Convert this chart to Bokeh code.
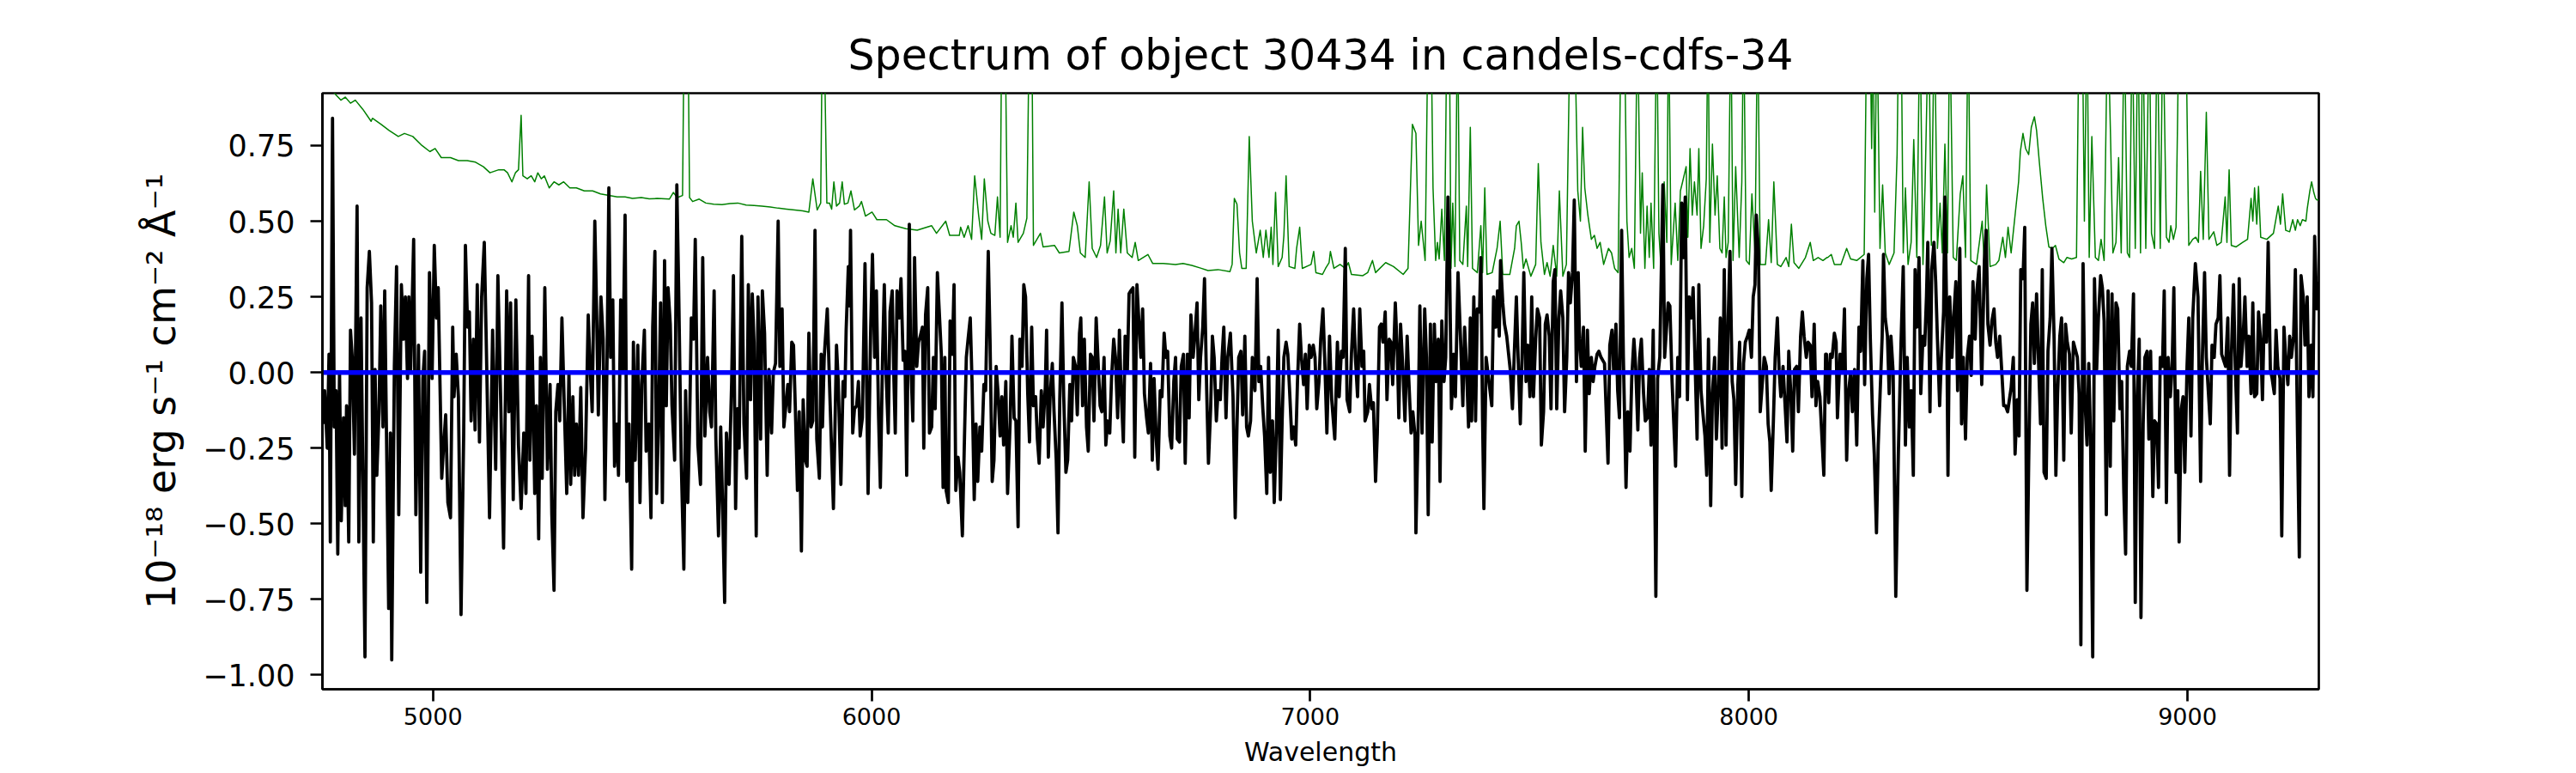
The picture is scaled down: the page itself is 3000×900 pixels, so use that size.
from bokeh.plotting import figure
from bokeh.models import Range1d, FixedTicker, Span
from bokeh.embed import file_html
from bokeh.resources import INLINE

title_text = "Spectrum of object 30434 in candels-cdfs-34"
x_label = "Wavelength"
y_label = "10\u207b\u00b9\u2078 erg s\u207b\u00b9 cm\u207b\u00b2 \u00c5\u207b\u00b9"

x_ticks = [5000, 6000, 7000, 8000, 9000]
x_tick_labels = ["5000", "6000", "7000", "8000", "9000"]
y_ticks = [-1.0, -0.75, -0.5, -0.25, 0.0, 0.25, 0.5, 0.75]
y_tick_labels = ["\u22121.00", "\u22120.75", "\u22120.50", "\u22120.25", "0.00", "0.25", "0.50", "0.75"]

# observed flux (black), piecewise by wavelength range
flux_4750_5890 = [
(4749,-0.17),(4753,-0.06),(4759,-0.25),(4763,0.06),(4766,-0.56),(4771,0.84),(4775,-0.18),(4779,-0.06),
(4783,-0.60),(4787,0.00),(4791,-0.49),(4796,-0.15),(4800,-0.44),(4803,-0.11),(4808,-0.56),(4812,0.14),
(4816,0.05),(4821,-0.27),(4827,0.55),(4831,-0.56),(4836,0.18),(4845,-0.94),(4850,0.28),(4855,0.40),
(4860,0.23),(4864,-0.56),(4868,0.01),(4872,-0.34),(4877,-0.13),(4881,0.22),(4886,-0.18),(4890,0.27),
(4894,-0.20),(4899,-0.78),(4903,-0.20),(4906,-0.95),(4912,0.02),(4917,0.35),(4922,-0.47),(4928,0.29),
(4933,0.11),(4937,0.25),(4942,-0.02),(4945,0.25),(4949,0.00),(4956,0.44),(4961,-0.47),(4967,0.09),
(4972,-0.66),(4977,-0.02),(4981,0.07),(4986,-0.76),(4992,0.33),(4998,-0.02),(5003,0.42),(5008,0.18),
(5012,0.28),(5020,-0.35),(5024,-0.25),(5029,-0.14),(5034,-0.43),(5040,-0.48),(5045,0.15),(5048,-0.08),
(5053,0.06),(5058,-0.08),(5064,-0.80),(5070,-0.21),(5074,0.42),(5079,0.15),(5083,0.20),(5087,-0.16),
(5092,0.11),(5096,-0.19),(5101,0.29),(5106,-0.23),(5111,0.25),(5117,0.43),(5121,0.14),(5129,-0.48),
(5136,0.14),(5143,-0.32),(5148,0.32),(5155,-0.13),(5161,-0.58),(5168,0.27),(5173,-0.13),(5177,0.23),
(5183,-0.42),(5189,0.24),(5195,-0.24),(5201,-0.45),(5207,-0.20),(5212,-0.40),(5218,0.32),(5221,-0.29),
(5226,0.12),(5232,-0.40),(5236,-0.11),(5241,-0.55),(5245,0.05),(5249,-0.35),(5255,0.28),(5261,-0.32),
(5267,-0.04),(5271,-0.47),(5276,-0.72),(5280,-0.13),(5285,-0.04),(5289,-0.16),(5294,0.18),(5299,-0.09),
(5305,-0.40),(5310,0.00),(5314,-0.37),(5319,-0.08),(5323,-0.34),(5327,-0.17),(5332,-0.34),(5337,-0.05),
(5342,-0.48),(5348,-0.25),(5354,0.19),(5358,0.03),(5363,-0.13),(5369,0.50),(5373,0.21),(5377,-0.14),
(5383,0.25),(5388,0.11),(5392,-0.42),(5397,0.05),(5401,0.61),(5405,0.05),(5410,0.24),(5414,-0.31),
(5419,-0.17),(5423,-0.34),(5428,0.24),(5433,0.01),(5438,0.52),(5442,-0.36),(5447,-0.17),(5453,-0.65),
(5457,0.10),(5461,-0.29),(5467,0.09),(5472,-0.43),(5476,-0.04),(5482,0.14),(5486,-0.26),(5492,-0.17),
(5497,-0.48),(5501,0.15),(5506,0.40),(5510,-0.40),(5514,-0.18),(5519,0.23),(5523,-0.43),(5528,0.37),
(5532,-0.11),(5536,0.28),(5541,0.16),(5545,-0.11),(5551,-0.29),(5556,0.62),(5560,0.29),(5566,-0.29),
(5572,-0.65),(5576,-0.06),(5581,-0.43),(5585,-0.18),(5589,0.18),(5594,0.11),(5598,0.44),(5604,-0.24),
(5610,-0.37),(5615,0.38),(5620,-0.21),(5626,0.05),(5631,-0.13),(5635,-0.18),(5641,0.27),(5645,-0.22),
(5651,-0.54),(5656,-0.18),(5660,-0.42),(5665,-0.76),(5669,-0.20),(5675,-0.37),(5681,-0.03),(5685,0.32),
(5690,-0.45),(5694,-0.12),(5698,-0.25),(5704,0.45),(5709,-0.17),(5715,-0.35),(5719,0.29),(5724,-0.09),
(5728,0.26),(5732,0.10),(5737,-0.54),(5741,0.25),(5747,-0.22),(5751,0.27),(5756,0.13),(5762,-0.34),
(5766,0.01),(5772,-0.20),(5776,0.00),(5781,0.03),(5787,0.50),(5791,0.02),(5796,0.21),(5800,-0.18),
(5809,-0.04),(5813,-0.13),(5818,0.10),(5822,0.09),(5826,-0.11),(5831,-0.39),(5835,-0.13),(5840,-0.59),
(5844,-0.09),(5849,-0.29),(5853,-0.31),(5857,0.13),(5862,-0.18),(5866,-0.16),(5871,0.47),(5875,-0.22),
(5881,-0.35),(5885,0.06)]

flux_5890_7035 = [
(5888,-0.18),(5892,0.05),(5899,0.21),(5905,-0.08),(5913,-0.45),(5920,0.09),(5924,-0.03),(5930,-0.37),
(5935,-0.03),(5939,-0.08),(5942,0.14),(5947,0.35),(5950,0.22),(5952,0.47),(5957,-0.20),(5961,-0.12),
(5966,-0.11),(5970,-0.03),(5974,-0.21),(5979,-0.15),(5985,0.36),(5992,-0.40),(5998,0.15),(6002,0.39),
(6007,0.05),(6011,0.27),(6016,-0.15),(6020,-0.38),(6025,0.05),(6029,0.29),(6033,0.00),(6038,-0.20),
(6042,0.20),(6047,0.27),(6051,-0.03),(6054,-0.20),(6058,0.27),(6063,0.18),(6067,0.31),(6072,0.04),
(6076,0.07),(6080,-0.34),(6086,0.49),(6089,0.05),(6094,-0.16),(6098,0.38),(6103,0.02),(6107,0.10),
(6111,0.12),(6116,0.15),(6119,-0.25),(6123,0.19),(6128,0.28),(6132,-0.20),(6137,-0.18),(6141,0.05),
(6145,-0.12),(6150,0.33),(6154,0.21),(6159,0.06),(6163,-0.38),(6167,0.05),(6170,-0.39),(6175,-0.43),
(6179,0.17),(6184,0.06),(6188,0.29),(6192,-0.39),(6197,-0.28),(6201,-0.33),(6207,-0.54),(6212,-0.20),
(6216,0.05),(6220,0.11),(6225,0.18),(6229,-0.03),(6234,-0.42),(6238,-0.17),(6242,-0.36),(6247,-0.18),
(6251,-0.26),(6256,-0.04),(6260,-0.06),(6266,0.40),(6270,0.11),(6275,-0.36),(6279,-0.29),(6284,0.02),
(6288,-0.06),(6293,-0.21),(6297,-0.08),(6301,-0.24),(6306,-0.03),(6310,-0.40),(6316,-0.16),(6320,0.12),
(6325,-0.15),(6329,-0.16),(6334,-0.51),(6338,0.11),(6343,0.02),(6347,0.29),(6351,0.25),(6356,-0.07),
(6360,-0.23),(6365,0.15),(6369,-0.11),(6374,-0.08),(6378,-0.22),(6382,-0.30),(6387,-0.06),(6391,-0.18),
(6396,-0.05),(6399,0.14),(6403,-0.28),(6407,-0.08),(6412,0.03),(6416,-0.13),(6421,-0.29),(6425,-0.53),
(6429,-0.09),(6434,0.23),(6438,-0.08),(6443,-0.33),(6447,-0.29),(6452,-0.04),(6456,-0.16),(6460,0.05),
(6465,0.02),(6469,-0.14),(6474,0.13),(6477,0.18),(6481,-0.11),(6485,0.11),(6490,-0.18),(6494,-0.26),
(6499,0.06),(6503,0.05),(6507,-0.16),(6512,0.18),(6516,0.05),(6521,-0.11),(6525,-0.13),(6530,0.05),
(6534,-0.24),(6538,-0.16),(6543,-0.20),(6547,-0.02),(6552,0.11),(6556,0.05),(6561,-0.15),(6565,0.14),
(6569,-0.06),(6574,-0.23),(6578,0.12),(6583,0.00),(6587,0.26),(6591,0.27),(6596,0.28),(6600,-0.28),
(6605,0.29),(6609,0.18),(6614,0.05),(6618,0.21),(6622,-0.07),(6627,-0.15),(6631,-0.20),(6636,0.03),
(6640,-0.29),(6644,-0.02),(6649,-0.22),(6653,-0.32),(6658,-0.06),(6662,-0.08),(6667,0.13),(6671,0.05),
(6675,0.07),(6680,-0.21),(6684,-0.25),(6689,-0.03),(6693,0.05),(6697,-0.22),(6702,-0.23),(6706,0.02),
(6711,0.06),(6715,-0.30),(6720,0.06),(6724,-0.15),(6728,0.19),(6733,0.05),(6737,0.12),(6742,0.23),
(6746,-0.09),(6750,0.05),(6755,0.15),(6759,0.31),(6764,-0.06),(6768,-0.30),(6773,-0.12),(6777,0.12),
(6781,0.05),(6786,-0.16),(6790,-0.06),(6795,-0.09),(6799,0.05),(6803,0.15),(6808,-0.15),(6812,0.05),
(6818,0.13),(6824,-0.08),(6829,-0.48),(6833,-0.18),(6837,0.05),(6842,0.07),(6846,-0.14),(6851,0.12),
(6855,-0.18),(6859,-0.21),(6864,-0.16),(6868,0.05),(6874,-0.06),(6879,0.31),(6883,-0.03),(6887,0.02),
(6892,-0.12),(6896,-0.21),(6901,-0.40),(6905,0.05),(6909,-0.33),(6914,-0.16),(6918,-0.43),(6923,-0.18),
(6927,0.14),(6932,-0.42),(6936,-0.16),(6940,0.05),(6945,0.10),(6949,0.06),(6954,-0.09),(6958,-0.22),
(6962,-0.18),(6967,-0.24),(6971,-0.03),(6976,0.16),(6980,0.05),(6985,-0.04),(6989,0.06),(6993,-0.12),
(6998,0.09),(7002,0.05),(7007,0.09),(7011,0.05),(7015,-0.12),(7020,-0.03),(7024,0.11),(7029,0.21),
(7033,0.05)]

flux_7035_8175 = [
(7038,-0.20),(7044,0.12),(7049,-0.09),(7056,-0.22),(7062,0.10),(7066,-0.08),(7071,0.07),(7075,0.05),
(7080,0.41),(7084,-0.09),(7090,-0.13),(7094,0.06),(7099,0.21),(7103,0.05),(7108,-0.08),(7113,0.21),
(7118,0.02),(7122,0.07),(7125,-0.16),(7131,-0.13),(7135,-0.04),(7140,-0.12),(7144,-0.10),(7149,-0.36),
(7153,-0.20),(7158,0.15),(7162,0.16),(7166,0.10),(7171,0.20),(7175,-0.09),(7180,0.11),(7184,0.10),
(7188,-0.04),(7194,0.23),(7199,0.05),(7202,-0.15),(7206,0.16),(7211,0.02),(7216,-0.16),(7221,0.12),
(7225,-0.03),(7230,-0.20),(7234,-0.13),(7239,-0.21),(7241,-0.53),(7246,-0.18),(7250,0.22),(7255,-0.20),
(7261,0.21),(7265,0.05),(7269,-0.47),(7274,0.16),(7278,-0.23),(7283,0.16),(7287,-0.03),(7292,0.11),
(7296,-0.36),(7300,0.17),(7305,-0.03),(7309,0.05),(7314,0.58),(7318,0.33),(7322,-0.12),(7327,0.06),
(7331,-0.08),(7337,0.33),(7343,0.10),(7348,-0.11),(7352,0.15),(7356,0.03),(7361,-0.18),(7365,0.18),
(7368,-0.16),(7373,0.25),(7377,-0.16),(7381,0.21),(7386,0.20),(7389,0.38),(7393,-0.16),(7396,-0.45),
(7401,0.05),(7414,-0.11),(7418,0.25),(7423,0.15),(7427,0.27),(7431,0.12),(7434,0.37),(7439,0.23),
(7443,0.16),(7448,0.12),(7456,0.01),(7461,-0.12),(7465,0.05),(7470,0.25),(7474,0.05),(7479,-0.17),
(7483,0.05),(7487,0.33),(7492,-0.03),(7496,0.09),(7501,-0.08),(7505,0.25),(7509,-0.08),(7514,0.11),
(7518,0.21),(7523,0.18),(7527,-0.24),(7532,-0.13),(7536,0.16),(7540,0.19),(7545,0.12),(7549,-0.12),
(7554,0.30),(7558,0.34),(7562,-0.12),(7567,0.18),(7571,0.27),(7576,0.18),(7580,-0.13),(7585,0.05),
(7589,0.33),(7593,0.23),(7598,0.33),(7602,0.57),(7607,-0.03),(7611,0.33),(7614,0.11),(7618,0.02),
(7623,0.15),(7627,-0.26),(7632,0.14),(7636,-0.07),(7641,0.05),(7645,-0.03),(7649,0.02),(7654,0.06),
(7658,0.07),(7663,0.05),(7671,0.03),(7679,-0.30),(7683,0.09),(7688,0.14),(7692,0.00),(7697,0.16),
(7701,-0.06),(7705,-0.15),(7710,0.47),(7714,0.05),(7720,-0.38),(7724,-0.13),(7729,-0.26),(7733,-0.02),
(7738,0.11),(7742,0.02),(7747,-0.19),(7751,0.05),(7755,0.11),(7760,-0.07),(7764,-0.16),(7769,-0.15),
(7773,0.01),(7777,-0.24),(7782,0.14),(7788,-0.74),(7792,-0.02),(7797,0.05),(7801,0.38),(7804,0.62),
(7808,0.05),(7816,0.23),(7820,0.22),(7825,-0.03),(7829,-0.17),(7833,-0.31),(7838,0.05),(7842,-0.08),
(7847,0.56),(7851,0.38),(7855,0.58),(7860,-0.09),(7864,0.25),(7869,0.18),(7873,0.28),(7882,-0.22),
(7886,0.29),(7891,-0.06),(7895,-0.13),(7900,-0.21),(7904,-0.34),(7908,0.11),(7913,-0.44),(7917,-0.07),
(7922,0.05),(7926,-0.22),(7931,-0.04),(7935,0.18),(7939,-0.25),(7944,0.34),(7948,-0.24),(7953,0.18),
(7957,0.40),(7962,-0.03),(7966,-0.09),(7970,-0.37),(7975,-0.04),(7979,0.10),(7984,-0.41),(7988,0.03),
(7992,0.10),(7997,0.12),(8001,0.14),(8006,0.05),(8010,0.25),(8014,0.29),(8017,0.52),(8022,0.40),
(8026,-0.13),(8031,-0.03),(8035,0.05),(8040,0.02),(8044,-0.17),(8048,-0.23),(8051,-0.39),(8056,-0.16),
(8060,0.05),(8065,0.18),(8069,0.01),(8073,-0.08),(8078,0.02),(8087,-0.23),(8091,0.07),(8096,-0.08),
(8100,-0.26),(8104,0.01),(8109,0.02),(8113,-0.13),(8118,0.12),(8122,0.20),(8126,0.12),(8131,0.05),
(8135,0.10),(8140,0.09),(8144,-0.08),(8149,0.16),(8153,-0.11),(8157,-0.03),(8162,-0.08),(8171,-0.34),
(8175,0.06)]

flux_8175_9300 = [
(8177,0.06),(8182,-0.10),(8186,0.06),(8190,0.05),(8195,0.13),(8199,0.10),(8202,-0.15),(8208,0.06),
(8213,0.00),(8218,0.21),(8223,-0.29),(8227,-0.07),(8232,0.00),(8236,-0.13),(8241,0.01),(8246,-0.24),
(8251,0.15),(8255,0.07),(8260,0.37),(8264,-0.04),(8269,0.31),(8273,0.39),(8277,0.11),(8282,-0.14),
(8286,-0.27),(8291,-0.53),(8295,-0.24),(8299,-0.08),(8304,0.12),(8307,0.39),(8311,0.18),(8316,0.12),
(8320,-0.07),(8324,0.12),(8329,0.00),(8335,-0.74),(8341,-0.26),(8347,0.10),(8352,0.35),(8357,-0.24),
(8361,0.05),(8366,-0.18),(8370,-0.06),(8375,-0.34),(8379,0.34),(8383,0.15),(8388,0.38),(8392,-0.07),
(8397,0.12),(8401,0.09),(8405,0.25),(8408,0.43),(8413,-0.13),(8417,0.34),(8422,0.43),(8426,0.30),
(8430,0.11),(8435,-0.11),(8439,0.05),(8444,0.20),(8447,0.58),(8451,0.20),(8454,-0.34),(8458,0.25),
(8463,0.05),(8467,0.18),(8472,0.30),(8476,-0.06),(8481,0.41),(8485,-0.17),(8489,0.05),(8494,-0.22),
(8498,0.05),(8503,0.12),(8507,-0.01),(8511,0.30),(8516,0.11),(8520,0.27),(8525,0.35),(8531,-0.04),
(8537,0.37),(8541,0.47),(8545,0.16),(8550,0.09),(8554,0.17),(8559,0.21),(8563,0.10),(8567,0.05),
(8572,0.12),(8576,0.02),(8581,-0.11),(8585,-0.11),(8590,-0.13),(8598,-0.05),(8603,0.05),(8607,-0.27),
(8612,-0.09),(8616,-0.21),(8620,0.34),(8625,0.31),(8629,0.48),(8634,-0.72),(8638,-0.30),(8643,0.16),
(8647,0.23),(8651,0.03),(8656,0.26),(8660,0.06),(8665,-0.17),(8669,0.34),(8673,-0.33),(8678,-0.35),
(8682,0.07),(8687,0.18),(8691,0.41),(8696,0.11),(8700,-0.34),(8704,-0.07),(8709,0.12),(8713,0.18),
(8718,-0.29),(8722,0.16),(8726,0.10),(8731,0.06),(8735,-0.20),(8740,0.10),(8749,0.05),(8753,-0.07),
(8757,-0.90),(8762,0.36),(8766,-0.08),(8771,-0.24),(8775,0.03),(8779,-0.21),(8784,-0.94),(8788,0.31),
(8793,0.01),(8797,0.18),(8802,0.32),(8806,0.28),(8810,0.17),(8815,-0.47),(8819,0.27),(8824,-0.31),
(8828,0.26),(8832,-0.16),(8837,0.23),(8841,0.21),(8846,-0.12),(8850,-0.03),(8855,-0.40),(8859,-0.60),
(8863,0.02),(8868,0.07),(8872,0.02),(8877,0.26),(8881,-0.76),(8885,-0.11),(8890,0.11),(8894,-0.81),
(8899,-0.17),(8903,0.05),(8908,0.07),(8912,-0.22),(8916,0.07),(8921,-0.41),(8925,-0.16),(8930,-0.17),
(8934,-0.38),(8938,0.05),(8943,0.02),(8947,0.27),(8952,-0.43),(8956,0.05),(8961,-0.08),(8965,0.02),
(8969,0.28),(8974,-0.33),(8978,-0.06),(8981,-0.56),(8986,-0.12),(8990,-0.08),(8994,-0.33),(8999,0.02),
(9003,0.18),(9008,-0.21),(9012,0.18),(9018,0.36),(9024,0.25),(9030,-0.36),(9034,0.05),(9039,0.33),
(9043,0.05),(9052,-0.17),(9056,0.09),(9061,0.05),(9065,0.16),(9070,0.18),(9074,0.32),(9078,0.06),
(9087,0.02),(9092,0.18),(9096,-0.34),(9100,0.05),(9105,0.29),(9109,0.02),(9114,-0.20),(9118,0.31),
(9122,0.02),(9127,0.12),(9131,0.25),(9136,0.02),(9140,0.12),(9145,-0.07),(9149,0.23),(9153,-0.08),
(9158,-0.07),(9162,0.20),(9167,0.10),(9171,-0.09),(9175,0.19),(9180,0.10),(9184,0.43),(9189,0.01),
(9193,-0.02),(9198,-0.07),(9202,0.14),(9206,0.02),(9211,-0.02),(9215,-0.54),(9220,0.15),(9224,0.05),
(9229,-0.04),(9233,0.12),(9237,0.05),(9242,0.12),(9246,0.34),(9251,-0.21),(9255,-0.61),(9259,0.32),
(9264,0.25),(9268,0.09),(9273,0.25),(9277,-0.08),(9282,0.09),(9286,-0.08),(9290,0.45),(9295,0.21),
(9299,0.30)]

# error / sky spectrum (green)
err_4750_5890 = [
(4749,0.97),(4762,0.95),(4777,0.92),(4790,0.90),(4800,0.91),(4812,0.89),(4823,0.90),(4840,0.87),
(4859,0.83),(4862,0.84),(4882,0.82),(4900,0.80),(4921,0.78),(4935,0.79),(4954,0.78),(4975,0.75),
(4993,0.73),(5005,0.74),(5019,0.71),(5040,0.71),(5058,0.70),(5078,0.70),(5097,0.695),(5115,0.68),
(5130,0.66),(5150,0.67),(5162,0.67),(5170,0.66),(5180,0.63),(5188,0.66),(5195,0.67),(5201,0.85),
(5205,0.65),(5215,0.64),(5224,0.65),(5232,0.63),(5239,0.66),(5247,0.64),(5254,0.65),(5265,0.61),
(5276,0.63),(5287,0.62),(5298,0.63),(5312,0.61),(5327,0.61),(5345,0.60),(5364,0.60),(5382,0.59),
(5401,0.585),(5420,0.58),(5438,0.58),(5455,0.575),(5475,0.578),(5493,0.574),(5511,0.575),(5539,0.573),
(5548,0.595),(5557,0.578),(5569,0.585),(5573,1.2),(5581,1.2),(5585,0.578),(5592,0.565),(5607,0.573),
(5622,0.56),(5640,0.556),(5659,0.555),(5677,0.558),(5695,0.56),(5714,0.553),(5732,0.552),(5750,0.55),
(5769,0.547),(5787,0.543),(5806,0.54),(5825,0.537),(5843,0.534),(5857,0.53),(5866,0.64),(5876,0.537),
(5884,0.56),(5888,1.2),(5891,1.2)]

err_5890_7035 = [
(5898,0.56),(5904,0.56),(5909,0.54),(5914,0.63),(5920,0.55),(5927,0.56),(5933,0.63),(5938,0.556),
(5946,0.56),(5953,0.60),(5961,0.537),(5972,0.55),(5977,0.565),(5986,0.517),(6001,0.53),(6012,0.505),
(6034,0.505),(6053,0.485),(6078,0.475),(6104,0.47),(6137,0.485),(6148,0.46),(6169,0.50),(6178,0.453),
(6200,0.453),(6203,0.48),(6211,0.447),(6220,0.485),(6228,0.44),(6235,0.65),(6244,0.52),(6251,0.44),
(6257,0.64),(6265,0.50),(6272,0.46),(6281,0.453),(6287,0.58),(6293,0.447),(6297,1.2),(6304,1.2),
(6310,0.43),(6318,0.485),(6323,0.447),(6329,0.56),(6334,0.43),(6346,0.46),(6354,0.51),(6360,1.2),
(6365,1.2),(6369,0.42),(6385,0.46),(6391,0.415),(6417,0.42),(6428,0.395),(6450,0.40),(6461,0.53),
(6469,0.485),(6476,0.395),(6487,0.38),(6496,0.63),(6503,0.41),(6513,0.38),(6522,0.42),(6531,0.58),
(6537,0.395),(6544,0.435),(6552,0.60),(6557,0.395),(6562,0.54),(6568,0.395),(6575,0.54),(6583,0.395),
(6594,0.38),(6601,0.43),(6608,0.37),(6630,0.39),(6641,0.36),(6665,0.36),(6693,0.357),(6710,0.36),
(6730,0.354),(6750,0.345),(6767,0.337),(6790,0.34),(6817,0.333),(6822,0.357),(6827,0.575),(6833,0.556),
(6839,0.395),(6844,0.344),(6854,0.344),(6861,0.78),(6868,0.50),(6877,0.395),(6886,0.47),(6893,0.38),
(6899,0.47),(6906,0.38),(6911,0.48),(6915,0.357),(6921,0.595),(6927,0.35),(6936,0.38),(6940,0.453),
(6945,0.65),(6952,0.35),(6965,0.344),(6969,0.41),(6976,0.48),(6982,0.344),(7002,0.357),(7008,0.40),
(7013,0.33),(7028,0.324),(7035,0.344)]

err_7035_8175 = [
(7043,0.363),(7046,0.40),(7054,0.344),(7068,0.357),(7080,0.344),(7087,0.363),(7094,0.324),(7120,0.32),
(7131,0.33),(7142,0.37),(7149,0.33),(7172,0.363),(7190,0.35),(7212,0.324),(7223,0.344),(7233,0.82),
(7241,0.79),(7247,0.42),(7253,0.50),(7262,0.37),(7269,1.2),(7275,1.2),(7280,0.61),(7286,0.37),
(7290,0.43),(7294,0.375),(7300,0.54),(7306,0.37),(7312,1.2),(7317,1.2),(7321,0.344),(7325,0.56),
(7330,0.35),(7336,1.2),(7341,0.37),(7348,0.357),(7356,0.55),(7359,0.35),(7365,0.81),(7370,0.344),
(7381,0.33),(7389,0.485),(7393,0.33),(7398,0.61),(7403,0.324),(7415,0.33),(7426,0.41),(7433,0.50),
(7439,0.324),(7455,0.324),(7466,0.41),(7470,0.485),(7476,0.50),(7481,0.43),(7486,0.344),(7492,0.375),
(7503,0.318),(7514,0.357),(7520,0.69),(7526,0.43),(7534,0.324),(7540,0.363),(7547,0.318),(7554,0.42),
(7562,0.318),(7568,0.60),(7576,0.318),(7584,0.357),(7593,1.2),(7602,1.2),(7610,0.60),(7616,0.50),
(7621,0.81),(7626,0.61),(7633,0.52),(7641,0.44),(7648,0.453),(7654,0.41),(7661,0.43),(7669,0.357),
(7680,0.41),(7687,0.395),(7694,0.344),(7702,0.33),(7709,1.2),(7716,1.2),(7722,0.50),(7727,0.38),
(7733,0.41),(7739,0.344),(7746,1.2),(7753,0.46),(7757,0.66),(7763,0.344),(7768,0.55),(7773,0.38),
(7777,0.56),(7783,0.344),(7790,1.2),(7795,0.46),(7800,0.344),(7807,0.63),(7813,0.43),(7817,1.2),
(7823,0.357),(7832,0.56),(7838,0.37),(7844,0.60),(7849,0.63),(7857,0.68),(7861,0.447),(7866,0.74),
(7871,0.52),(7876,0.63),(7882,0.52),(7886,0.74),(7891,0.41),(7897,0.485),(7903,0.64),(7907,1.2),
(7911,0.43),(7917,0.755),(7923,0.52),(7928,0.65),(7934,0.41),(7939,0.395),(7944,0.58),(7948,0.38),
(7953,0.43),(7959,1.2),(7964,0.37),(7970,0.68),(7978,0.38),(7984,0.63),(7988,1.2),(7994,0.37),
(8001,0.357),(8007,0.59),(8014,0.395),(8020,1.2),(8026,0.357),(8038,0.357),(8045,0.505),(8051,0.363),
(8057,0.63),(8065,0.357),(8073,0.35),(8085,0.38),(8091,0.35),(8097,0.49),(8103,0.363),(8114,0.344),
(8129,0.38),(8140,0.43),(8147,0.37),(8158,0.38),(8169,0.37),(8178,0.38)]

err_8175_9300 = [
(8180,0.38),(8188,0.39),(8195,0.357),(8210,0.357),(8223,0.41),(8232,0.375),(8246,0.37),(8263,0.39),
(8269,1.2),(8276,1.2),(8280,0.74),(8283,1.2),(8287,0.53),(8292,1.2),(8299,0.41),(8305,0.62),
(8311,0.395),(8320,0.357),(8331,0.395),(8338,0.72),(8342,1.2),(8347,1.2),(8352,0.395),(8357,0.61),
(8363,0.357),(8370,0.43),(8376,0.77),(8383,0.38),(8390,1.2),(8397,0.357),(8402,0.63),(8410,1.2),
(8416,0.42),(8423,1.2),(8430,0.41),(8436,0.56),(8441,0.395),(8447,0.755),(8453,0.395),(8458,1.2),
(8466,0.38),(8473,0.37),(8482,0.59),(8488,0.65),(8494,0.38),(8500,1.2),(8506,0.37),(8519,0.357),
(8532,0.50),(8537,0.35),(8542,0.62),(8550,0.35),(8563,0.357),(8570,0.37),(8579,0.447),(8585,0.38),
(8591,0.48),(8598,0.395),(8607,0.52),(8615,0.63),(8619,0.73),(8625,0.79),(8631,0.74),(8638,0.72),
(8644,0.81),(8651,0.845),(8656,0.80),(8662,0.70),(8670,0.575),(8677,0.485),(8684,0.415),(8692,0.41),
(8699,0.42),(8707,0.375),(8718,0.363),(8725,0.38),(8736,0.375),(8747,0.38),(8753,1.2),(8760,1.2),
(8765,0.50),(8771,1.2),(8776,0.38),(8782,0.78),(8790,0.38),(8797,0.37),(8803,0.44),(8810,0.37),
(8818,1.2),(8825,0.755),(8830,0.395),(8837,0.43),(8843,0.71),(8849,0.395),(8856,1.2),(8863,0.395),
(8868,0.38),(8874,1.2),(8881,0.41),(8887,1.2),(8893,0.395),(8898,1.2),(8905,0.41),(8913,1.2),
(8918,0.46),(8925,0.41),(8931,1.2),(8938,0.41),(8944,1.2),(8952,0.447),(8958,0.43),(8962,0.485),
(8968,0.44),(8974,0.48),(8981,1.2),(8988,1.2),(8996,1.2),(9003,0.42),(9012,0.44),(9019,0.447),
(9025,0.43),(9030,0.665),(9036,0.44),(9043,0.86),(9049,0.44),(9060,0.465),(9067,0.42),(9077,0.43),
(9086,0.58),(9090,0.43),(9095,0.67),(9100,0.42),(9111,0.415),(9126,0.43),(9137,0.44),(9145,0.575),
(9149,0.50),(9153,0.61),(9158,0.49),(9162,0.615),(9167,0.447),(9181,0.44),(9196,0.46),(9207,0.55),
(9212,0.49),(9217,0.59),(9224,0.47),(9233,0.465),(9240,0.505),(9246,0.47),(9251,0.505),(9257,0.485),
(9262,0.505),(9270,0.50),(9273,0.54),(9279,0.60),(9283,0.63),(9288,0.595),(9292,0.575),(9295,0.57),
(9299,0.57)]

flux_pts = flux_4750_5890 + flux_5890_7035 + flux_7035_8175 + flux_8175_9300
err_pts = err_4750_5890 + err_5890_7035 + err_7035_8175 + err_8175_9300
flux_wave = [w for w, _ in flux_pts]
flux_val = [v for _, v in flux_pts]
err_wave = [w for w, _ in err_pts]
err_val = [v for _, v in err_pts]

FONT = "DejaVu Sans"

p = figure(width=2996, height=898, output_backend="svg", toolbar_location=None,
           x_range=Range1d(4748, 9299.5), y_range=Range1d(-1.047, 0.923),
           min_border_left=375, min_border_right=296, min_border_top=108, min_border_bottom=96,
           background_fill_color="white", border_fill_color="white")

p.title.text = title_text
p.title.text_font = FONT
p.title.text_font_size = "49px"
p.title.text_font_style = "normal"
p.title.text_color = "black"
p.title.align = "center"
p.title.standoff = 32

p.line(err_wave, err_val, line_color="#008000", line_width=1.5, line_join="round")
zero = Span(location=0, dimension="width", line_color="#0000ff", line_width=5.5, level="glyph")
p.add_layout(zero)
p.line(flux_wave, flux_val, line_color="black", line_width=3.8, line_join="round")

p.xgrid.visible = False
p.ygrid.visible = False
p.outline_line_color = "black"
p.outline_line_width = 2.7
p.outline_line_alpha = 1.0

for ax in (p.xaxis[0], p.yaxis[0]):
    ax.axis_line_color = "black"
    ax.axis_line_width = 2.7
    ax.major_tick_line_width = 2.7
    ax.major_tick_line_color = "black"
    ax.major_tick_out = 14
    ax.major_tick_in = 0
    ax.minor_tick_out = 0
    ax.minor_tick_in = 0
    ax.major_label_text_font = FONT
    ax.major_label_text_color = "black"
    ax.axis_label_text_font = FONT
    ax.axis_label_text_font_style = "normal"
    ax.axis_label_text_color = "black"

p.xaxis.ticker = FixedTicker(ticks=x_ticks)
p.xaxis.major_label_overrides = dict(zip(x_ticks, x_tick_labels))
p.xaxis.major_label_text_font_size = "27px"
p.xaxis.major_label_standoff = 7
p.xaxis.axis_label = x_label
p.xaxis.axis_label_text_font_size = "30px"
p.xaxis.axis_label_standoff = 11

p.yaxis.ticker = FixedTicker(ticks=y_ticks)
p.yaxis.major_label_overrides = dict(zip(y_ticks, y_tick_labels))
p.yaxis.major_label_text_font_size = "35px"
p.yaxis.major_label_standoff = 18
p.yaxis.axis_label = y_label
p.yaxis.axis_label_text_font_size = "46px"
p.yaxis.axis_label_standoff = 18

open("out.html", "w").write(file_html(p, INLINE))
